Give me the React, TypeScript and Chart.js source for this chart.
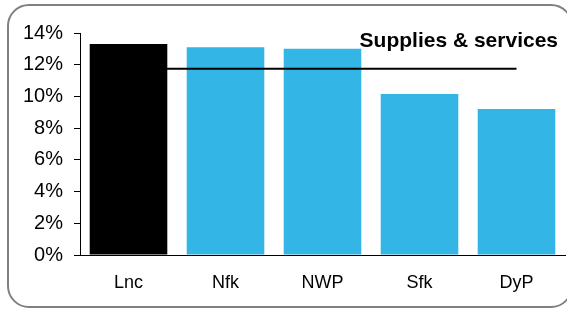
import React, { useEffect, useRef } from "react";
import { Chart, registerables } from "chart.js";

Chart.register(...registerables);

const categories = ["Lnc", "Nfk", "NWP", "Sfk", "DyP"];
const shareValues = [13.3, 13.1, 13.0, 10.15, 9.2];
const averageValue = 11.75;
const averageLine = categories.map(() => averageValue);
const barColors = ["#000000", "#33B5E6", "#33B5E6", "#33B5E6", "#33B5E6"];
const chartTitle = "Supplies & services";

const FONT = "'Liberation Sans', Arial, Helvetica, sans-serif";

const titlePlugin = {
  id: "cornerTitle",
  afterDraw(chart: any) {
    const ctx = chart.ctx;
    ctx.save();
    ctx.font = `bold 21px ${FONT}`;
    ctx.fillStyle = "#000";
    ctx.textAlign = "right";
    ctx.textBaseline = "alphabetic";
    ctx.fillText(chartTitle, 558, 47);
    ctx.restore();
  },
};

export default function App() {
  const ref = useRef<HTMLCanvasElement>(null);
  useEffect(() => {
    if (!ref.current) return;
    const chart = new Chart(ref.current, {
      type: "bar",
      data: {
        labels: categories,
        datasets: [
          {
            type: "line",
            data: averageLine,
            borderColor: "#000",
            borderWidth: 2,
            pointRadius: 0,
            fill: false,
            order: 0,
          } as any,
          {
            type: "bar",
            data: shareValues,
            backgroundColor: barColors,
            barPercentage: 0.8,
            categoryPercentage: 1,
            order: 1,
          },
        ],
      },
      options: {
        animation: false,
        responsive: false,
        layout: { padding: { top: 33, right: 2, left: 0, bottom: 0 } },
        plugins: { legend: { display: false }, tooltip: { enabled: false }, title: { display: false } },
        scales: {
          x: {
            afterFit(scale: any) {
              scale.height = 55;
            },
            grid: { display: false, drawTicks: false },
            border: { display: true, color: "#000", width: 1 },
            ticks: { color: "#000", font: { family: FONT, size: 18 }, padding: 17 },
          },
          y: {
            min: 0,
            max: 14,
            afterFit(scale: any) {
              scale.width = 80;
            },
            grid: { drawOnChartArea: false, drawTicks: true, tickLength: 6, color: "#000" },
            border: { display: true, color: "#000", width: 1 },
            ticks: {
              stepSize: 2,
              color: "#000",
              padding: 11,
              font: { family: FONT, size: 20 },
              callback: (v: any) => `${v}%`,
            },
          },
        },
      },
      plugins: [titlePlugin],
    });
    return () => chart.destroy();
  }, []);
  return (
    <div style={{ position: "absolute", left: 0, top: 0, width: 567, height: 310, overflow: "hidden", background: "#fff" }}>
      <div
        style={{
          position: "absolute",
          left: 7,
          top: 4,
          width: 562,
          height: 300,
          border: "2px solid #808080",
          borderRadius: 22,
        }}
      />
      <canvas ref={ref} width={567} height={310} style={{ position: "absolute", left: 0, top: 0 }} />
    </div>
  );
}
